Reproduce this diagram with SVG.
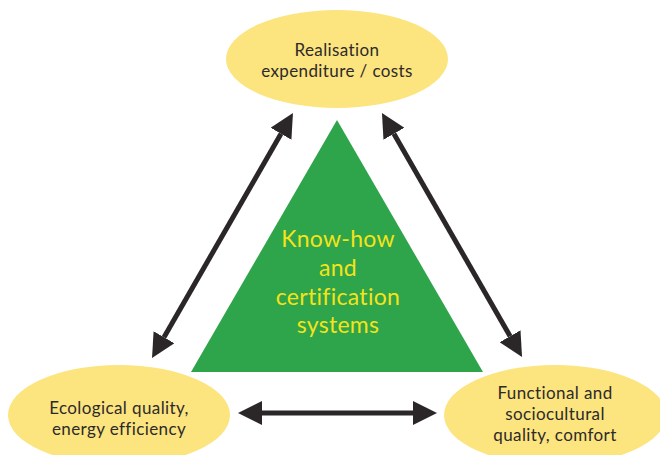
<svg xmlns="http://www.w3.org/2000/svg" width="660" height="455" viewBox="0 0 660 455">
  <style>
    .bubble { fill: #fce47e; }
    .label { font-family: Lato, "Open Sans", sans-serif; font-size: 17px; letter-spacing: 0.4px; fill: #2d2a2b; text-anchor: middle; }
    .core { font-family: Lato, "Open Sans", sans-serif; font-size: 23px; letter-spacing: 0.3px; fill: #f5e31a; text-anchor: middle; }
    .link { stroke: #2b2728; stroke-width: 5; fill: none; marker-start: url(#head); marker-end: url(#head); }
  </style>
  <defs>
    <marker id="head" viewBox="0 0 24 24" refX="0" refY="12" markerWidth="24" markerHeight="24" markerUnits="userSpaceOnUse" orient="auto-start-reverse">
      <path d="M0,0 L24,12 L0,24 z" fill="#2b2728"/>
    </marker>
  </defs>
  <rect width="660" height="455" fill="#ffffff"/>

  <g id="core">
    <polygon points="337,120 483,372 191,372" fill="#2ea44b"/>
    <text class="core" x="338" y="247">Know-how</text>
    <text class="core" x="338" y="276">and</text>
    <text class="core" x="338" y="305">certification</text>
    <text class="core" x="338" y="333">systems</text>
  </g>

  <g id="costs">
    <ellipse class="bubble" cx="337" cy="59" rx="111" ry="49"/>
    <text class="label" x="337" y="56">Realisation</text>
    <text class="label" x="337" y="77">expenditure / costs</text>
  </g>

  <g id="ecology">
    <ellipse class="bubble" cx="119" cy="415" rx="111" ry="50"/>
    <text class="label" x="119" y="414">Ecological quality,</text>
    <text class="label" x="119" y="435">energy efficiency</text>
  </g>

  <g id="comfort">
    <ellipse class="bubble" cx="555" cy="415" rx="111" ry="50"/>
    <text class="label" x="555" y="399">Functional and</text>
    <text class="label" x="555" y="420">sociocultural</text>
    <text class="label" x="555" y="441">quality, comfort</text>
  </g>

  <g id="connectors">
    <line class="link" x1="164" y1="337.2" x2="281" y2="133.8"/>
    <line class="link" x1="393.9" y1="133.8" x2="510.1" y2="336.2"/>
    <line class="link" x1="262" y1="413" x2="413" y2="413"/>
  </g>
</svg>
